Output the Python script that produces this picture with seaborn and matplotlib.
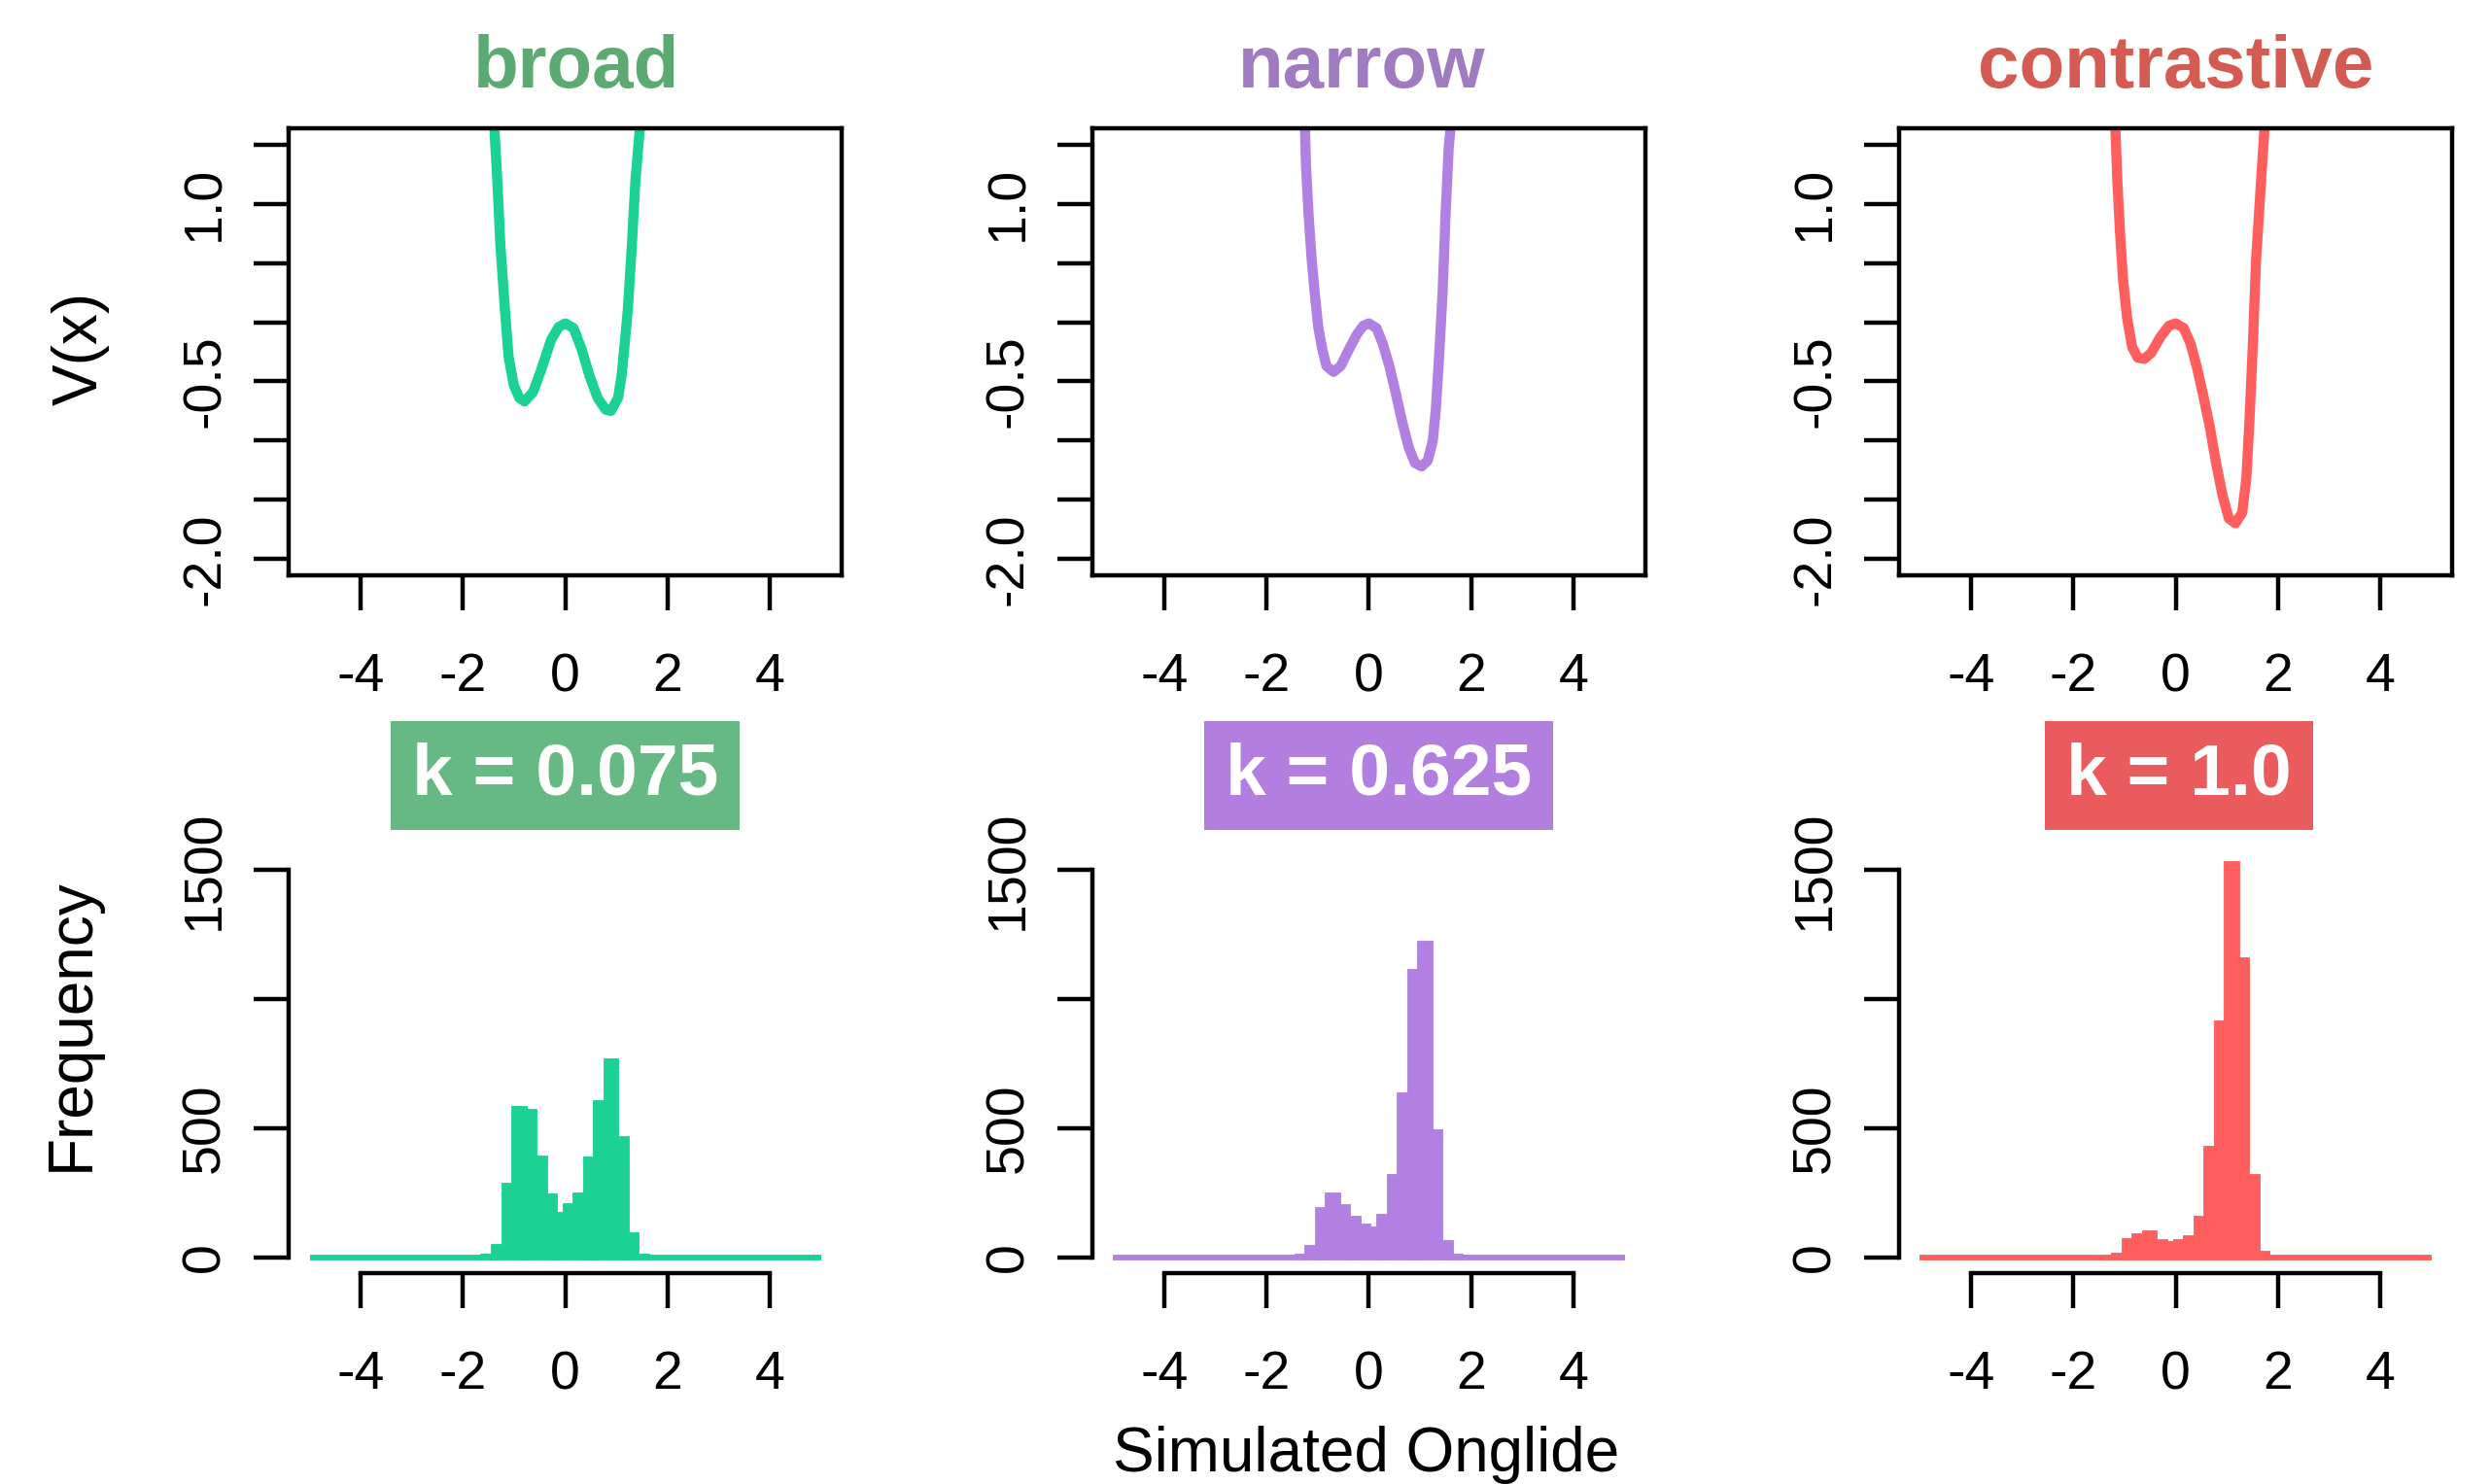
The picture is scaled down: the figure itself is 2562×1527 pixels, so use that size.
import numpy as np
import pandas as pd
import matplotlib
matplotlib.use("Agg")
import matplotlib.pyplot as plt
import seaborn as sns

# panel names and parameter labels
conditions = ["broad", "narrow", "contrastive"]
k_labels = ["k = 0.075", "k = 0.625", "k = 1.0"]

line_colors = ["#1BD194", "#B27FE2", "#FF5E5E"]
title_colors = ["#5BAA72", "#A07BBF", "#D45B52"]
box_colors = ["#66B983", "#B27EE0", "#EA5B5D"]

# potential curves V(x)
broad_x = [-1.39, -1.33, -1.27, -1.18, -1.11, -1.01, -0.90, -0.80, -0.63, -0.47,
           -0.28, -0.13, 0.0, 0.16, 0.32, 0.47, 0.63, 0.79, 0.89, 1.03,
           1.10, 1.16, 1.22, 1.30, 1.37, 1.46]
broad_v = [1.66, 1.20, 0.65, 0.10, -0.29, -0.53, -0.64, -0.67, -0.59, -0.40,
           -0.15, -0.04, -0.01, -0.05, -0.23, -0.45, -0.64, -0.74, -0.75, -0.64,
           -0.45, -0.18, 0.10, 0.65, 1.20, 1.66]

narrow_x = [-1.25, -1.23, -1.18, -1.12, -1.05, -0.99, -0.91, -0.83, -0.69, -0.55,
            -0.39, -0.23, -0.11, 0.0, 0.15, 0.27, 0.40, 0.52, 0.65, 0.78,
            0.90, 1.03, 1.15, 1.25, 1.31, 1.37, 1.44, 1.50, 1.56, 1.60]
narrow_v = [1.66, 1.33, 0.92, 0.54, 0.21, -0.04, -0.23, -0.37, -0.42, -0.37,
            -0.23, -0.10, -0.03, -0.01, -0.05, -0.18, -0.37, -0.59, -0.84, -1.06,
            -1.19, -1.22, -1.17, -1.00, -0.73, -0.31, 0.24, 0.92, 1.47, 1.66]

contrastive_x = [-1.18, -1.14, -1.09, -1.03, -0.95, -0.85, -0.74, -0.61, -0.48, -0.29,
                 -0.13, 0.0, 0.16, 0.29, 0.41, 0.54, 0.67, 0.79, 0.92, 1.04,
                 1.17, 1.30, 1.38, 1.44, 1.51, 1.57, 1.65, 1.74]
contrastive_v = [1.66, 1.20, 0.78, 0.37, 0.04, -0.21, -0.30, -0.31, -0.26, -0.12,
                 -0.03, -0.01, -0.05, -0.18, -0.37, -0.62, -0.89, -1.19, -1.47, -1.66,
                 -1.70, -1.61, -1.33, -0.86, -0.18, 0.51, 1.06, 1.66]

# histogram counts per 0.2-wide bin, bins starting at these values
bin_starts = [-1.8, -1.6, -1.4, -1.2, -1.0, -0.8, -0.6, -0.4, -0.2,
              0.0, 0.2, 0.4, 0.6, 0.8, 1.0, 1.2, 1.4, 1.6]
broad_counts = [0, 5, 43, 277, 576, 566, 384, 236, 167,
                201, 241, 381, 600, 759, 459, 85, 3, 0]
narrow_counts = [0, 0, 5, 39, 184, 241, 197, 149, 122,
                 109, 159, 313, 627, 1108, 1214, 487, 55, 3]
contrastive_counts = [0, 0, 0, 9, 65, 84, 96, 59, 52,
                      59, 77, 152, 423, 909, 1524, 1150, 312, 15]

curves = [(broad_x, broad_v), (narrow_x, narrow_v), (contrastive_x, contrastive_v)]
counts = [broad_counts, narrow_counts, contrastive_counts]

bin_width = 0.2

sns.set_style("white")
plt.rcParams['font.family'] = ['Liberation Sans', 'DejaVu Sans']
plt.rcParams['text.color'] = 'black'

fig = plt.figure(figsize=(25.62, 15.27), dpi=100)

lefts = [0.1161, 0.4388, 0.7628]
width = 0.2219
top_bottom, top_height = 0.6123, 0.3013
hist_bottom, hist_height = 0.1421, 0.2819
title_shift = [0.0045, -0.003, 0.0]
box_shift = [0.0, 0.0039, 0.0013]

tick_fs = 40
lab_fs = 46
spine_w = 3.2


def style_ticks(a):
    a.tick_params(axis="both", direction="out", length=26, width=spine_w,
                  labelsize=tick_fs, colors="black", bottom=True, left=True,
                  top=False, right=False)
    a.tick_params(axis="x", pad=31)
    a.tick_params(axis="y", pad=17)
    a.set_xlabel("")
    a.set_ylabel("")


for i, cond in enumerate(conditions):
    # top row: potential
    ax = fig.add_axes([lefts[i], top_bottom, width, top_height])
    cx, cv = curves[i]
    sns.lineplot(x=cx, y=cv, ax=ax, color=line_colors[i], linewidth=7.5, sort=False)
    ax.set_xlim(-5.4, 5.4)
    ax.set_ylim(-2.14, 1.64)
    for s in ax.spines.values():
        s.set_visible(True)
        s.set_linewidth(spine_w)
        s.set_color("black")
    ax.set_xticks([-4, -2, 0, 2, 4])
    ax.set_xticklabels(["-4", "-2", "0", "2", "4"])
    yt = [-2.0, -1.5, -1.0, -0.5, 0.0, 0.5, 1.0, 1.5]
    ax.set_yticks(yt)
    ax.set_yticklabels(["-2.0", "", "", "-0.5", "", "", "1.0", ""],
                       rotation=90, va="center")
    style_ticks(ax)

    fig.text(lefts[i] + width / 2 + title_shift[i], 0.941, cond, ha="center",
             va="baseline", fontsize=55, fontweight="bold", color=title_colors[i])

    # bottom row: histogram of simulated onglide
    axh = fig.add_axes([lefts[i], hist_bottom, width, hist_height])
    centers = [b + bin_width / 2 for b in bin_starts]
    df = pd.DataFrame({"x": centers, "n": counts[i]})
    sns.histplot(data=df, x="x", weights="n", binwidth=bin_width,
                 binrange=(-5, 5), ax=axh,
                 color=line_colors[i], edgecolor=line_colors[i], linewidth=4.2,
                 alpha=1)
    axh.set_xlim(-5.4, 5.4)
    axh.set_ylim(-60, 1560)
    axh.spines["top"].set_visible(False)
    axh.spines["right"].set_visible(False)
    axh.spines["left"].set_bounds(0, 1500)
    axh.spines["bottom"].set_bounds(-4, 4)
    for s in ["left", "bottom"]:
        axh.spines[s].set_linewidth(spine_w)
        axh.spines[s].set_color("black")
    axh.set_xticks([-4, -2, 0, 2, 4])
    axh.set_xticklabels(["-4", "-2", "0", "2", "4"])
    axh.set_yticks([0, 500, 1000, 1500])
    axh.set_yticklabels(["0", "500", "", "1500"], rotation=90, va="center")
    style_ticks(axh)

    fig.text(lefts[i] + width / 2 + box_shift[i], 0.4774, k_labels[i],
             ha="center", va="center",
             fontsize=54, fontweight="bold", color="white",
             bbox=dict(boxstyle="square,pad=0.29", facecolor=box_colors[i],
                       edgecolor="none"))

fig.text(0.0322, 0.7655, "V(x)", rotation=90, ha="center", va="center",
         fontsize=lab_fs, color="black")
fig.text(0.0287, 0.3097, "Frequency", rotation=90, ha="center", va="center",
         fontsize=lab_fs, color="black")
fig.text(0.5485, 0.0197, "Simulated Onglide", ha="center", va="center",
         fontsize=lab_fs, color="black")

fig.savefig("out.png", dpi=100, facecolor="white")
